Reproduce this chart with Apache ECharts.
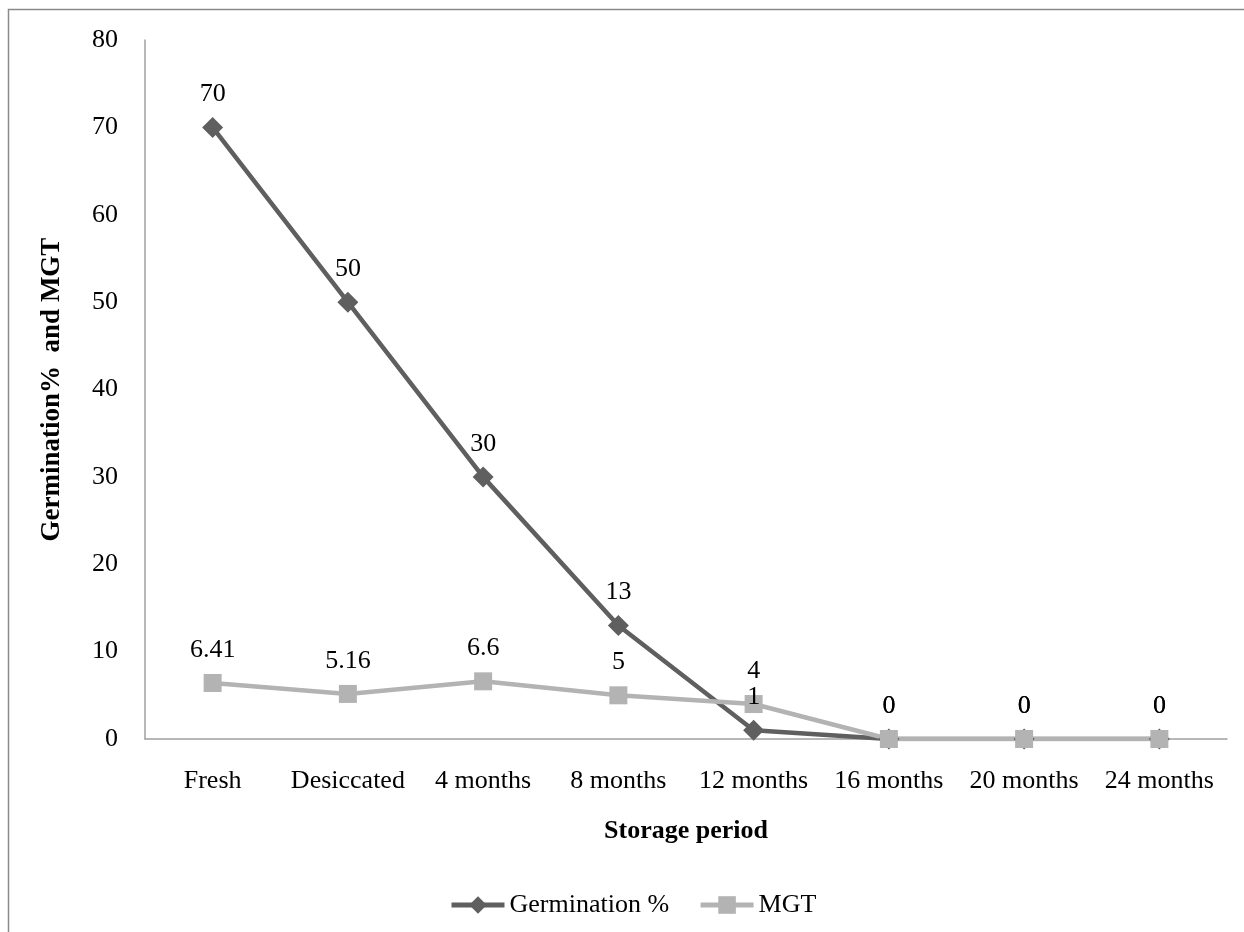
<!DOCTYPE html>
<html>
<head>
<meta charset="utf-8">
<script src="https://cdn.jsdelivr.net/npm/echarts@6/dist/echarts.min.js"></script>
<style>
  html, body { margin: 0; padding: 0; background: #fff; }
  #main { width: 1244px; height: 932px; }
</style>
</head>
<body>
<div id="main"></div>
<script>
const categories = ['Fresh', 'Desiccated', '4 months', '8 months', '12 months', '16 months', '20 months', '24 months'];
const germination = [70, 50, 30, 13, 1, 0, 0, 0];
const mgt = [6.41, 5.16, 6.6, 5, 4, 0, 0, 0];
const yTicks = [0, 10, 20, 30, 40, 50, 60, 70, 80];

const font = 'Liberation Serif';
const fs = 26;
const chart = echarts.init(document.getElementById('main'), null, { renderer: 'canvas' });

// label sits same height for both series (diamond is a bit bigger than the square)
function labelStyle(dist) {
  return {
    show: true,
    position: 'top',
    distance: dist,
    fontFamily: font,
    fontSize: fs,
    color: '#000'
  };
}

const option = {
  backgroundColor: '#fff',
  animation: false,
  textStyle: { fontFamily: font },
  graphic: [{
    type: 'rect',
    shape: { x: 8.5, y: 9.5, width: 1300, height: 1000 },
    style: { fill: 'none', stroke: '#8a8a8a', lineWidth: 1.5 },
    silent: true
  }],
  grid: { left: 145, right: 17, top: 40, bottom: 193 },
  legend: {
    left: 444,
    top: 887,
    itemWidth: 53,
    itemHeight: 22,
    itemGap: 29,
    lineStyle: { width: 5 },
    textStyle: { fontFamily: font, fontSize: fs, color: '#000' },
    data: ['Germination %', 'MGT']
  },
  xAxis: {
    type: 'category',
    data: categories,
    name: 'Storage period',
    nameLocation: 'middle',
    nameGap: 79,
    nameTextStyle: { fontFamily: font, fontSize: fs, fontWeight: 'bold', color: '#000' },
    axisLine: { lineStyle: { color: '#a0a0a0', width: 1.5 } },
    axisTick: { show: false },
    axisLabel: { fontFamily: font, fontSize: fs, color: '#000', margin: 29, interval: 0 },
    splitLine: { show: false }
  },
  yAxis: {
    type: 'value',
    min: yTicks[0],
    max: yTicks[yTicks.length - 1],
    interval: 10,
    name: 'Germination%  and MGT',
    nameLocation: 'middle',
    nameGap: 79,
    nameTextStyle: { fontFamily: font, fontSize: 27, fontWeight: 'bold', color: '#000' },
    axisLine: { show: true, lineStyle: { color: '#a0a0a0', width: 1.5 } },
    axisTick: { show: false },
    axisLabel: { fontFamily: font, fontSize: fs, color: '#000', margin: 27 },
    splitLine: { show: false }
  },
  series: [
    {
      name: 'Germination %',
      type: 'line',
      data: germination,
      symbol: 'diamond',
      symbolSize: 21,
      color: '#5f5f5f',
      lineStyle: { color: '#5f5f5f', width: 4.5 },
      itemStyle: { color: '#5f5f5f' },
      label: labelStyle(9.5)
    },
    {
      name: 'MGT',
      type: 'line',
      data: mgt,
      symbol: 'rect',
      symbolSize: 18,
      color: '#b3b3b3',
      lineStyle: { color: '#b3b3b3', width: 4.5 },
      itemStyle: { color: '#b3b3b3' },
      label: labelStyle(11)
    }
  ]
};

chart.setOption(option);
</script>
</body>
</html>
